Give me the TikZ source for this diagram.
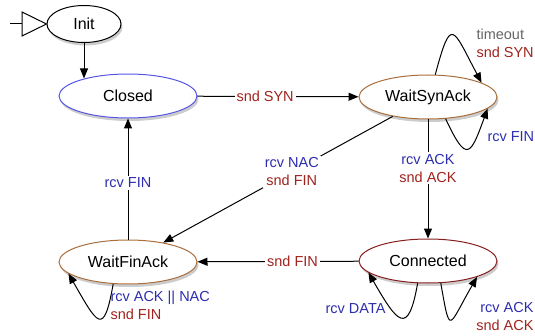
\documentclass[tikz,border=0pt]{standalone}
\usepackage{fontspec}
\setmainfont{Liberation Sans}
\usetikzlibrary{arrows.meta, calc, shapes, shadows, positioning}
\definecolor{rcvblue}{RGB}{45,45,175}
\definecolor{sndred}{RGB}{160,35,30}
\definecolor{closedblue}{RGB}{85,85,230}
\definecolor{waitbrown}{RGB}{170,110,60}
\definecolor{connred}{RGB}{135,30,30}
\newcommand{\rcvmsg}[1]{\textcolor{rcvblue}{rcv #1}}
\newcommand{\sndmsg}[1]{\textcolor{sndred}{snd #1}}

\begin{document}
\begin{tikzpicture}[% styles used in image code
          x = 1pt, y = 1pt,
 line width = 1pt,
          > = {Triangle[length=10pt, width=8pt]}, % defined in "arrows.meta"
state/.style = {ellipse, draw, fill=white,
                minimum width=138pt, minimum height=44pt,
                inner sep=0pt,
                font=\fontsize{16}{18}\selectfont,
                drop shadow={shadow xshift=1.5pt, shadow yshift=-3pt,
                             fill=black, opacity=0.2}},
  lbl/.style = {fill=white, inner sep=2pt, align=center,
                font=\fontsize{14.5}{18}\selectfont},
 loop lbl/.style = {inner sep=0pt,
                font=\fontsize{14.5}{18}\selectfont}
                    ]
    \useasboundingbox (0,0) rectangle (535,335);
    % states
    \node[state, minimum width=74pt, minimum height=37pt] (init) at (84,311) {Init};
    \node[state, draw=closedblue] (closed)    at (128,239) {Closed};
    \node[state, draw=waitbrown]  (waitsyn)   at (428,238) {WaitSynAck};
    \node[state, draw=waitbrown]  (waitfin)   at (128,73)  {WaitFinAck};
    \node[state, draw=connred]    (connected) at (428,74)  {Connected};

    % entry marker
    \coordinate (entry) at (10,311);
    \draw (entry) -- ++(12,0) coordinate (tri);
    \draw[fill=white, line join=miter] (tri) -- ++(0,12) -- (init.west) -- ($(tri)+(0,-12)$) -- cycle;

    % transitions
    \draw[->] (init.south) -- (init.south |- closed.158);
    \draw[->] (closed) -- (waitsyn)
        node[lbl, pos=0.42] {\sndmsg{SYN}};
    \draw[->] (waitsyn) -- (connected)
        node[lbl, pos=0.41] {\rcvmsg{ACK}\\\sndmsg{ACK}};
    \draw[->] (waitsyn) -- (waitfin)
        node[lbl, pos=0.44] {\rcvmsg{NAC}\\\sndmsg{FIN}};
    \draw[->] (connected) -- (waitfin)
        node[lbl, pos=0.41] {\sndmsg{FIN}};
    \draw[->] (waitfin) -- (closed)
        node[lbl, pos=0.47] {\rcvmsg{FIN}};

    % self loops
    \draw[->] (waitsyn.72) .. controls +(75:62) and +(118:62) .. (waitsyn.15);
    \draw[->] (waitsyn.-51) .. controls +(-65:50) and +(-110:50) .. (waitsyn.-11);
    \draw[->] (connected.-115) .. controls +(-100:55) and +(-60:58) .. (connected.-169);
    \draw[->] (connected.-60) .. controls +(-80:55) and +(-120:58) .. (connected.-18);
    \draw[->] (waitfin.-124) .. controls +(-100:55) and +(-60:58) .. (waitfin.-169);

    % loop labels
    \node[loop lbl, anchor=west, align=left] (tolbl) at (476,292)
        {\textcolor{black!60}{timeout}\\\sndmsg{SYN}};
    \node[loop lbl, anchor=west] (finlbl) at (487,198) {\rcvmsg{FIN}};
    \node[loop lbl, anchor=west, align=left] (acklbl) at (110,30)
        {\rcvmsg{ACK || NAC}\\\sndmsg{FIN}};
    \node[loop lbl, anchor=east] (datalbl) at (386,26) {\rcvmsg{DATA}};
    \node[loop lbl, anchor=east, align=right] (acklbl2) at (534,18)
        {\rcvmsg{ACK}\\\sndmsg{ACK}};
\end{tikzpicture}
\end{document}
